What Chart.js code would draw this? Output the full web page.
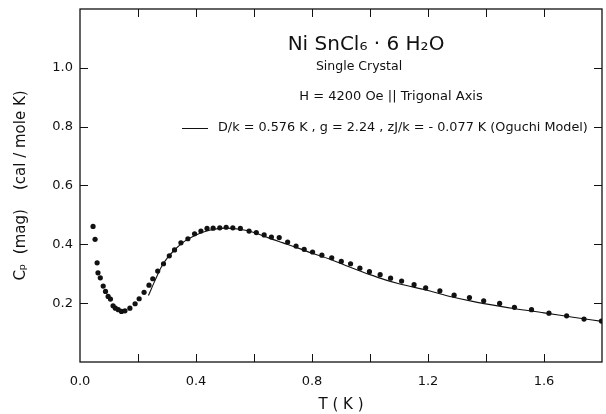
<!DOCTYPE html>
<html>
<head>
<meta charset="utf-8">
<script src="https://cdn.jsdelivr.net/npm/chart.js@4.4.1/dist/chart.umd.min.js"></script>
<style>
html,body{margin:0;padding:0;background:#fff;}
#wrap{width:606px;height:414px;position:relative;}
</style>
</head>
<body>
<div id="wrap"><canvas id="c" width="606" height="414"></canvas></div>
<script>
// Measured data (T in K, Cp in cal/mole K)
const dataT = [0.045,0.052,0.059,0.062,0.070,0.080,0.088,0.097,0.105,0.114,0.122,0.132,0.143,0.155,0.172,0.190,0.204,0.221,0.238,0.251,0.268,0.288,0.308,0.326,0.348,0.372,0.395,0.417,0.438,0.459,0.482,0.504,0.527,0.553,0.583,0.608,0.635,0.660,0.687,0.716,0.745,0.773,0.802,0.834,0.868,0.901,0.933,0.965,0.998,1.035,1.071,1.109,1.152,1.192,1.241,1.290,1.343,1.392,1.447,1.498,1.557,1.617,1.678,1.738,1.798];
const dataCp = [0.461,0.417,0.337,0.303,0.286,0.258,0.240,0.223,0.214,0.191,0.183,0.178,0.172,0.174,0.183,0.198,0.215,0.237,0.261,0.283,0.309,0.334,0.361,0.381,0.405,0.419,0.436,0.445,0.454,0.455,0.456,0.458,0.456,0.454,0.445,0.440,0.432,0.425,0.423,0.408,0.394,0.383,0.374,0.363,0.354,0.342,0.334,0.319,0.307,0.297,0.285,0.275,0.263,0.252,0.242,0.227,0.219,0.208,0.199,0.186,0.178,0.166,0.157,0.146,0.139];
// Oguchi model curve
const modelT = [0.236,0.26,0.28,0.30,0.33,0.36,0.40,0.45,0.50,0.55,0.60,0.65,0.70,0.75,0.80,0.86,0.93,1.00,1.05,1.10,1.20,1.28,1.35,1.45,1.50,1.60,1.70,1.80];
const modelCp = [0.226,0.280,0.322,0.352,0.385,0.410,0.432,0.449,0.455,0.451,0.440,0.422,0.405,0.388,0.370,0.350,0.323,0.297,0.280,0.266,0.243,0.222,0.207,0.189,0.181,0.167,0.152,0.138];
const xLabeled = [0.0,0.4,0.8,1.2,1.6];
const yLabeled = [0.2,0.4,0.6,0.8,1.0];
const titleText = "Ni SnCl\u2086 \u00B7 6 H\u2082O";
const subText1 = "Single Crystal";
const subText2 = "H = 4200 Oe || Trigonal Axis";
const legendText = "D/k = 0.576 K , g = 2.24 , zJ/k = - 0.077 K (Oguchi Model)";
const xTitle = "T ( K )";
const yTitle = "C\u209A  (mag)    (cal / mole K)";

const FONT = "'DejaVu Sans', sans-serif";

const framePlugin = {
  id: 'frame',
  afterDraw(chart) {
    const {ctx, chartArea: a, scales} = chart;
    const xs = scales.x, ys = scales.y;
    ctx.save();
    ctx.strokeStyle = '#111';
    ctx.lineWidth = 1.3;
    ctx.strokeRect(a.left, a.top, a.right - a.left, a.bottom - a.top);
    ctx.lineWidth = 1;
    const tl = 8;
    for (let i = 1; i < 9; i++) {
      const px = Math.round(xs.getPixelForValue(i * 0.2)) + 0.5;
      ctx.beginPath();
      ctx.moveTo(px, a.bottom); ctx.lineTo(px, a.bottom - tl);
      ctx.moveTo(px, a.top); ctx.lineTo(px, a.top + tl);
      ctx.stroke();
    }
    for (let i = 1; i < 6; i++) {
      const py = Math.round(ys.getPixelForValue(i * 0.2)) + 0.5;
      ctx.beginPath();
      ctx.moveTo(a.left, py); ctx.lineTo(a.left + tl, py);
      ctx.moveTo(a.right, py); ctx.lineTo(a.right - tl, py);
      ctx.stroke();
    }
    // annotation texts
    ctx.fillStyle = '#111';
    ctx.textBaseline = 'middle';
    ctx.textAlign = 'center';
    ctx.font = "20px " + FONT;
    ctx.fillText(titleText, 366, 45);
    ctx.font = "12.5px " + FONT;
    ctx.fillText(subText1, 359, 67);
    ctx.font = "13px " + FONT;
    ctx.fillText(subText2, 391, 97);
    // legend
    ctx.beginPath();
    ctx.moveTo(182, 128.5); ctx.lineTo(208, 128.5);
    ctx.stroke();
    ctx.textAlign = 'left';
    ctx.font = "12.8px " + FONT;
    ctx.fillText(legendText, 218, 128);
    ctx.restore();
  }
};

new Chart(document.getElementById('c'), {
  data: {
    datasets: [
      {
        type: 'scatter',
        data: dataT.map((t, i) => ({x: t, y: dataCp[i]})),
        backgroundColor: '#111',
        borderColor: '#111',
        pointRadius: 2.6,
        pointHoverRadius: 2.6,
        borderWidth: 0
      },
      {
        type: 'line',
        data: modelT.map((t, i) => ({x: t, y: modelCp[i]})),
        borderColor: '#111',
        borderWidth: 1.1,
        pointRadius: 0,
        fill: false,
        cubicInterpolationMode: 'monotone'
      }
    ]
  },
  options: {
    responsive: false,
    animation: false,
    events: [],
    layout: {padding: {top: 9, right: 4, left: 0, bottom: 0}},
    plugins: {legend: {display: false}, tooltip: {enabled: false}},
    scales: {
      x: {
        type: 'linear', min: 0, max: 1.8,
        grid: {display: false, drawTicks: false},
        border: {display: false},
        ticks: {
          stepSize: 0.2, padding: 12, color: '#111',
          font: {family: FONT, size: 13},
          maxRotation: 0, autoSkip: false,
          callback: v => xLabeled.some(l => Math.abs(l - v) < 1e-6) ? v.toFixed(1) : ''
        },
        title: {display: true, text: xTitle, color: '#111', font: {family: FONT, size: 15}, padding: {top: 4, bottom: 0}},
        afterFit: s => { s.height = 52; s.paddingLeft = 0; s.paddingRight = 0; }
      },
      y: {
        type: 'linear', min: 0, max: 1.2,
        grid: {display: false, drawTicks: false},
        border: {display: false},
        ticks: {
          stepSize: 0.2, padding: 7, color: '#111',
          font: {family: FONT, size: 13},
          autoSkip: false,
          callback: v => yLabeled.some(l => Math.abs(l - v) < 1e-6) ? v.toFixed(1) : ''
        },
        title: {display: true, text: yTitle, color: '#111', font: {family: FONT, size: 15}, padding: {top: 12, bottom: 0}},
        afterFit: s => { s.width = 80; s.paddingTop = 0; s.paddingBottom = 0; }
      }
    }
  },
  plugins: [framePlugin]
});
</script>
</body>
</html>
